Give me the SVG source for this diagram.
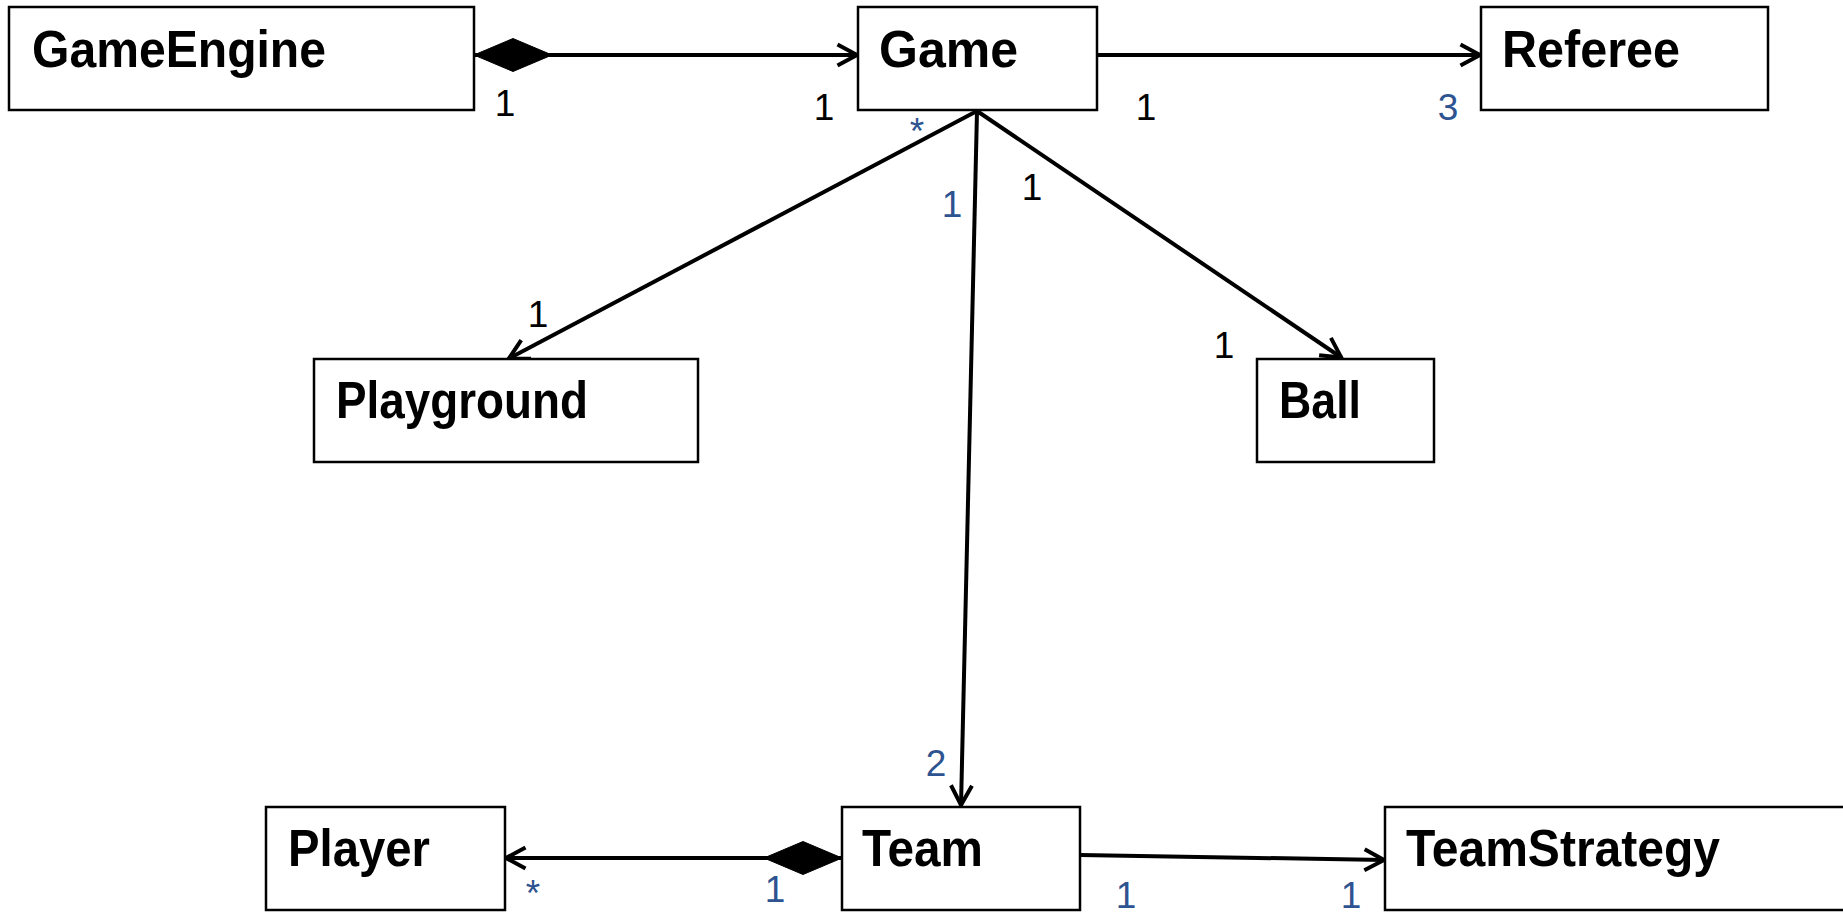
<svg xmlns="http://www.w3.org/2000/svg" width="1843" height="917" viewBox="0 0 1843 917">
<style>
.box{fill:#fff;stroke:#000;stroke-width:2.5}
.name{font-family:"Liberation Sans",Arial,sans-serif;font-weight:bold;font-size:52px;fill:#000}
.lbl{font-family:"Liberation Sans",Arial,sans-serif;font-size:37px;text-anchor:middle}
.k{fill:#000}
.b{fill:#2D5391}
.conn{fill:none;stroke:#000;stroke-width:4}
</style>
<defs>
<marker id="arrow" markerUnits="userSpaceOnUse" viewBox="-26 -15 30 30" markerWidth="30" markerHeight="30" refX="0" refY="0" orient="auto">
<path d="M -20.5 -10.5 L -1 0 L -20.5 10.5" fill="none" stroke="#000" stroke-width="4"/>
</marker>
<marker id="diamond" markerUnits="userSpaceOnUse" viewBox="-2 -20 84 40" markerWidth="84" markerHeight="40" refX="0" refY="0" orient="auto">
<path d="M0 0 L39 -16.5 L78 0 L39 16.5 Z" fill="#000" stroke="#000" stroke-width="1"/>
</marker>
</defs>
<rect width="1843" height="917" fill="#fff"/>
<g id="connectors">
<path class="conn" d="M474 55 L858 55" marker-start="url(#diamond)" marker-end="url(#arrow)"/>
<path class="conn" d="M1097 55 L1481 55" marker-end="url(#arrow)"/>
<path class="conn" d="M977 111 L508 359" marker-end="url(#arrow)"/>
<path class="conn" d="M977 111 L1342 358" marker-end="url(#arrow)"/>
<path class="conn" d="M977 111 L961 806" marker-end="url(#arrow)"/>
<path class="conn" d="M842 858 L505 858" marker-start="url(#diamond)" marker-end="url(#arrow)"/>
<path class="conn" d="M1080 855 L1385 860" marker-end="url(#arrow)"/>
<text class="lbl k" x="505" y="116">1</text>
<text class="lbl k" x="824" y="120">1</text>
<text class="lbl k" x="1146" y="120">1</text>
<text class="lbl b" x="1448" y="120">3</text>
<text class="lbl b" x="917" y="144">*</text>
<text class="lbl b" x="952" y="217">1</text>
<text class="lbl k" x="1032" y="200">1</text>
<text class="lbl k" x="538" y="327">1</text>
<text class="lbl k" x="1224" y="358">1</text>
<text class="lbl b" x="936" y="776">2</text>
<text class="lbl b" x="533" y="906">*</text>
<text class="lbl b" x="775" y="902">1</text>
<text class="lbl b" x="1126" y="908">1</text>
<text class="lbl b" x="1351" y="908">1</text>
</g>
<g id="GameEngine"><rect class="box" x="9" y="7" width="465" height="103"/><text class="name" x="32" y="67" textLength="294" lengthAdjust="spacingAndGlyphs">GameEngine</text></g>
<g id="Game"><rect class="box" x="858" y="7" width="239" height="103"/><text class="name" x="879" y="67" textLength="139" lengthAdjust="spacingAndGlyphs">Game</text></g>
<g id="Referee"><rect class="box" x="1481" y="7" width="287" height="103"/><text class="name" x="1502" y="67" textLength="178" lengthAdjust="spacingAndGlyphs">Referee</text></g>
<g id="Playground"><rect class="box" x="314" y="359" width="384" height="103"/><text class="name" x="336" y="418" textLength="252" lengthAdjust="spacingAndGlyphs">Playground</text></g>
<g id="Ball"><rect class="box" x="1257" y="359" width="177" height="103"/><text class="name" x="1279" y="418" textLength="82" lengthAdjust="spacingAndGlyphs">Ball</text></g>
<g id="Player"><rect class="box" x="266" y="807" width="239" height="103"/><text class="name" x="288" y="866" textLength="142" lengthAdjust="spacingAndGlyphs">Player</text></g>
<g id="Team"><rect class="box" x="842" y="807" width="238" height="103"/><text class="name" x="862" y="866" textLength="121" lengthAdjust="spacingAndGlyphs">Team</text></g>
<g id="TeamStrategy"><rect class="box" x="1385" y="807" width="480" height="103"/><text class="name" x="1406" y="866" textLength="314" lengthAdjust="spacingAndGlyphs">TeamStrategy</text></g>
</svg>
